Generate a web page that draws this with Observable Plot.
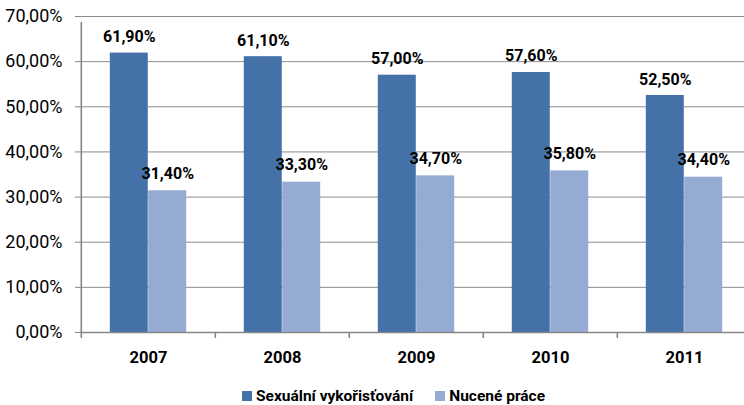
<!DOCTYPE html>
<html>
<head>
<meta charset="utf-8">
<script src="https://cdn.jsdelivr.net/npm/d3@7"></script>
<script src="https://cdn.jsdelivr.net/npm/@observablehq/plot@0.6"></script>
<style>
  body { margin: 0; background: #fff; }
  #wrap { position: relative; width: 744px; height: 405px; overflow: hidden; font-family: Roboto, sans-serif; }
  #legend { position: absolute; left: 242px; top: 386px; display: flex; align-items: baseline; font-size: 15.5px; font-weight: bold; line-height: 20px; color: #000; white-space: nowrap; }
  #legend .sw { display: inline-block; width: 10px; height: 10px; margin-right: 4px; }
</style>
</head>
<body>
<div id="wrap">
  <div id="chart"></div>
  <div id="legend"></div>
</div>
<script>
const years = ["2007", "2008", "2009", "2010", "2011"];
const sexualni = [61.9, 61.1, 57.0, 57.6, 52.5];
const nucene = [31.4, 33.3, 34.7, 35.8, 34.4];
const seriesNames = ["Sexuální vykořisťování", "Nucené práce"];
const seriesColors = ["#4472A8", "#95ABD3"];
const yTicks = [0, 10, 20, 30, 40, 50, 60, 70];

const fmt = v => v.toFixed(2).replace(".", ",") + "%";

const W = 744, H = 380;
const xRange = [80, 752];
const step = (xRange[1] - xRange[0]) / years.length;
const bandW = step * 0.286;

const dataA = years.map((y, i) => ({year: y, value: sexualni[i]}));
const dataB = years.map((y, i) => ({year: y, value: nucene[i]}));

const plot = Plot.plot({
  width: W,
  height: H,
  marginTop: 16,
  marginBottom: 48,
  marginLeft: 80,
  marginRight: 0,
  style: {fontFamily: "Roboto, sans-serif", background: "#fff", color: "#000"},
  x: {domain: years, range: xRange, paddingInner: 1 - bandW / step, paddingOuter: (1 - bandW / step) / 2, axis: null},
  y: {domain: [0, 70], axis: null},
  marks: [
    Plot.ruleY(yTicks.filter(t => t > 0), {y: d => d, stroke: "#8c8c8c", strokeWidth: 1}),
    Plot.barY(dataA, {x: "year", y: "value", fill: seriesColors[0], dx: -bandW / 2}),
    Plot.barY(dataB, {x: "year", y: "value", fill: seriesColors[1], dx: bandW / 2}),
    Plot.ruleY([0], {stroke: "#868686", strokeWidth: 1.6}),
    Plot.ruleX([years[0]], {x: d => d, dx: -step / 2, y1: 0, y2: 70, insetBottom: -6, stroke: "#868686", strokeWidth: 1.6}),
    Plot.ruleX(years, {x: d => d, dx: -step / 2, y1: 0, y2: 0, insetBottom: -6, stroke: "#868686", strokeWidth: 1.6}),
    Plot.axisY({ticks: yTicks, tickSize: 5, tickPadding: 13, tickFormat: fmt, fontSize: 18, stroke: "#868686", fill: "#000", label: null}),
    Plot.text(dataA, {x: "year", y: "value", text: d => fmt(d.value), dx: -bandW / 2, dy: -11, lineAnchor: "bottom", fontSize: 16, fontWeight: "bold", fill: "#000"}),
    Plot.text(dataB, {x: "year", y: "value", text: d => fmt(d.value), dx: bandW / 2, dy: -12, lineAnchor: "bottom", fontSize: 16, fontWeight: "bold", fill: "#000"}),
    Plot.text(years, {x: d => d, y: () => 0, dy: 30, lineAnchor: "bottom", fontSize: 16.5, fontWeight: "bold", fill: "#000"})
  ]
});
document.getElementById("chart").appendChild(plot);

const legend = document.getElementById("legend");
seriesNames.forEach((name, i) => {
  const item = document.createElement("span");
  item.style.marginRight = i === 0 ? "22px" : "0";
  item.innerHTML = `<span class="sw" style="background:${seriesColors[i]}"></span>${name}`;
  legend.appendChild(item);
});
</script>
</body>
</html>
